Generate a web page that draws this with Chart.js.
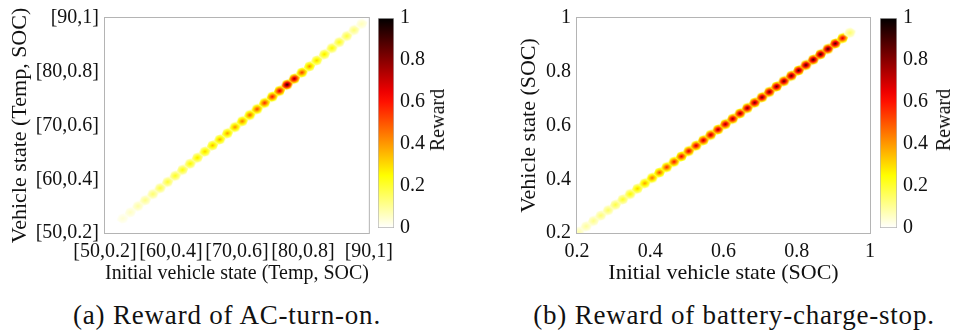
<!DOCTYPE html>
<html>
<head>
  <meta charset="utf-8">
  <title>Reward heatmaps</title>
  <script src="https://cdn.jsdelivr.net/npm/chart.js"></script>
  <style>
    body {
      margin: 0;
      width: 954px;
      height: 335px;
      position: relative;
      overflow: hidden;
      background: #fff;
      font-family: "Liberation Serif", serif;
      color: #111;
    }
    .box { position: absolute; }
    /* captions under each panel */
    .cap {
      position: absolute;
      top: 300px;
      line-height: 30px;
      font-size: 27px;
      letter-spacing: 0.8px;
      white-space: nowrap;
      transform: translateX(-50%);
    }
    /* colorbar label, reads bottom to top */
    .cbt {
      position: absolute;
      font-size: 20px;
      line-height: 20px;
      white-space: nowrap;
      transform: translate(-50%, -50%) rotate(-90deg);
    }
  </style>
</head>
<body>
  <div class="box" style="left:0;top:0;width:400px;height:290px"><canvas id="heatA"></canvas></div>
  <div class="box" style="left:370px;top:0;width:70px;height:250px"><canvas id="barA"></canvas></div>
  <div class="cbt" style="left:437px;top:120px">Reward</div>
  <div class="cap" style="left:227px">(a) Reward of AC-turn-on.</div>

  <div class="box" style="left:480px;top:0;width:420px;height:290px"><canvas id="heatB"></canvas></div>
  <div class="box" style="left:872px;top:0;width:70px;height:250px"><canvas id="barB"></canvas></div>
  <div class="cbt" style="left:943px;top:120px">Reward</div>
  <div class="cap" style="left:734px">(b) Reward of battery-charge-stop.</div>

  <script>
    // (a) state along the diagonal (SOC units of the axis) and peak reward
    const stateA = [0.254, 0.277, 0.300, 0.322, 0.345, 0.367, 0.390, 0.413, 0.435, 0.458,
                    0.480, 0.503, 0.526, 0.548, 0.571, 0.594, 0.616, 0.639, 0.661, 0.684,
                    0.707, 0.729, 0.752, 0.774, 0.797, 0.820, 0.842, 0.865, 0.888, 0.910,
                    0.933, 0.955, 0.978];
    const rewardA = [0.04, 0.06, 0.09, 0.12, 0.15, 0.19, 0.21, 0.23, 0.25, 0.27,
                     0.30, 0.33, 0.36, 0.38, 0.40, 0.43, 0.46, 0.50, 0.54, 0.58,
                     0.62, 0.70, 0.95, 0.80, 0.55, 0.42, 0.33, 0.30, 0.27, 0.24,
                     0.20, 0.14, 0.07];

    // (b) SOC along the diagonal and peak reward
    const stateB = [0.205, 0.225, 0.245, 0.265, 0.285, 0.305, 0.325, 0.345, 0.365, 0.385,
                    0.405, 0.425, 0.445, 0.465, 0.485, 0.505, 0.525, 0.545, 0.565, 0.585,
                    0.605, 0.625, 0.645, 0.665, 0.685, 0.705, 0.725, 0.745, 0.765, 0.785,
                    0.805, 0.825, 0.845, 0.865, 0.885, 0.905, 0.925, 0.945];
    const rewardB = [0.08, 0.10, 0.12, 0.14, 0.16, 0.19, 0.22, 0.27, 0.33, 0.40,
                     0.48, 0.52, 0.58, 0.62, 0.66, 0.70, 0.72, 0.74, 0.76, 0.78,
                     0.79, 0.80, 0.82, 0.83, 0.85, 0.86, 0.86, 0.87, 0.88, 0.89,
                     0.90, 0.91, 0.92, 0.93, 0.93, 0.90, 0.70, 0.15];

    const tickValues = [0.2, 0.4, 0.6, 0.8, 1];
    const tickLabelsA = ['[50,0.2]', '[60,0.4]', '[70,0.6]', '[80,0.8]', '[90,1]'];
    const tickLabelsB = ['0.2', '0.4', '0.6', '0.8', '1'];
    const colorbarTicks = [0, 0.2, 0.4, 0.6, 0.8, 1];
    const colorbarLabels = ['0', '0.2', '0.4', '0.6', '0.8', '1'];

    const FONT = '"Liberation Serif", serif';
    const TEXT = '#111';

    // flipped matlab "hot": 0 white -> yellow -> red -> 1 black
    function hotR(v) {
      const h = 1 - Math.min(1, Math.max(0, v));
      const r = Math.min(1, h / 0.375);
      const g = Math.min(1, Math.max(0, (h - 0.375) / 0.375));
      const b = Math.max(0, (h - 0.75) / 0.25);
      return [Math.round(r * 255), Math.round(g * 255), Math.round(b * 255)];
    }

    // one smeared cell of the heatmap: a hexagon, cut off while still yellow
    function makeBlob(v, len, wid, angle) {
      const size = Math.ceil(2 * len + 6);
      const c = document.createElement('canvas');
      c.width = c.height = size;
      const ctx = c.getContext('2d');
      ctx.translate(size / 2, size / 2);
      ctx.rotate(-angle);
      ctx.scale(1, wid / len);
      const g = ctx.createRadialGradient(0, 0, 0, 0, 0, len * 1.35);
      for (let i = 0; i <= 10; i++) {
        const t = i / 10;
        const rgb = hotR(v * (1 - t));
        g.addColorStop(t, 'rgb(' + rgb.join(',') + ')');
      }
      ctx.fillStyle = g;
      ctx.beginPath();
      ctx.moveTo(-len, 0);
      ctx.lineTo(-0.4 * len, -len);
      ctx.lineTo(0.4 * len, -len);
      ctx.lineTo(len, 0);
      ctx.lineTo(0.4 * len, len);
      ctx.lineTo(-0.4 * len, len);
      ctx.closePath();
      ctx.fill();
      return c;
    }

    // grey box round the plot area
    const framePlugin = {
      id: 'frame',
      afterDatasetsDraw(chart) {
        const { ctx, chartArea: a } = chart;
        ctx.save();
        ctx.strokeStyle = '#b4b4b4';
        ctx.lineWidth = 1;
        ctx.strokeRect(a.left - 0.5, a.top - 0.5, a.width + 1, a.height + 1);
        ctx.restore();
      }
    };

    function heatChart(id, states, rewards, labels, cfg) {
      const blobs = rewards.map(v => makeBlob(v, cfg.len, cfg.wid, cfg.angle));
      return new Chart(document.getElementById(id), {
        type: 'scatter',
        data: {
          datasets: [{
            data: states.map(s => ({ x: s, y: s })),
            pointStyle: blobs,
            pointRadius: 5
          }]
        },
        options: {
          responsive: true,
          maintainAspectRatio: false,
          animation: false,
          layout: { padding: { top: 12, right: 30, left: 0, bottom: 0 } },
          plugins: { legend: { display: false }, tooltip: { enabled: false } },
          scales: {
            x: {
              type: 'linear', min: 0.2, max: 1,
              afterBuildTicks: s => { s.ticks = tickValues.map(v => ({ value: v })); },
              afterFit: s => { s.height = 57; },
              grid: { display: false, drawTicks: false },
              border: { display: false },
              ticks: {
                callback: (v, i) => labels[i],
                autoSkip: false, maxRotation: 0, padding: 7,
                color: TEXT, font: { family: FONT, size: 20 }
              },
              title: {
                display: true, text: cfg.xTitle, color: TEXT,
                font: { family: FONT, size: 22 }, padding: { top: 0, bottom: 4 }
              }
            },
            y: {
              type: 'linear', min: 0.2, max: 1,
              afterBuildTicks: s => { s.ticks = tickValues.map(v => ({ value: v })); },
              afterFit: s => { s.width = cfg.yWidth; },
              grid: { display: false, drawTicks: false },
              border: { display: false },
              ticks: {
                callback: (v, i) => labels[i],
                autoSkip: false, padding: 6,
                color: TEXT, font: { family: FONT, size: 20 }
              },
              title: {
                display: true, text: cfg.yTitle, color: TEXT,
                font: { family: FONT, size: 22 }, padding: { top: cfg.yTitlePad, bottom: 0 }
              }
            }
          }
        },
        plugins: [framePlugin]
      });
    }

    function colorbar(id, top, barWidth) {
      return new Chart(document.getElementById(id), {
        type: 'bar',
        data: {
          labels: ['Reward'],
          datasets: [{
            data: [1],
            backgroundColor: (c) => {
              const a = c.chart.chartArea;
              if (!a) return '#fff';
              const g = c.chart.ctx.createLinearGradient(0, a.bottom, 0, a.top);
              for (let i = 0; i <= 20; i++) {
                g.addColorStop(i / 20, 'rgb(' + hotR(i / 20).join(',') + ')');
              }
              return g;
            },
            borderColor: '#b4b4b4',
            borderWidth: 1,
            borderSkipped: false,
            barPercentage: 1,
            categoryPercentage: 1
          }]
        },
        options: {
          responsive: true,
          maintainAspectRatio: false,
          animation: false,
          layout: { padding: { top: top, left: 8, right: 0, bottom: 22 } },
          plugins: { legend: { display: false }, tooltip: { enabled: false } },
          scales: {
            x: { display: false },
            y: {
              position: 'right', min: 0, max: 1,
              afterBuildTicks: s => { s.ticks = colorbarTicks.map(v => ({ value: v })); },
              afterFit: s => { s.width = 70 - 8 - barWidth; },
              grid: { display: false, drawTicks: false },
              border: { display: false },
              ticks: {
                callback: (v, i) => colorbarLabels[i],
                padding: 6, color: TEXT, font: { family: FONT, size: 20 }
              }
            }
          }
        }
      });
    }

    heatChart('heatA', stateA, rewardA, tickLabelsA, {
      len: 6.2, wid: 4.8, angle: 0.3, yWidth: 105, yTitlePad: 7,
      xTitle: 'Initial vehicle state (Temp, SOC)', yTitle: 'Vehicle state (Temp, SOC)'
    });
    heatChart('heatB', stateB, rewardB, tickLabelsB, {
      len: 6.2, wid: 4.8, angle: 0.3, yWidth: 97, yTitlePad: 36,
      xTitle: 'Initial vehicle state (SOC)', yTitle: 'Vehicle state (SOC)'
    });
    colorbar('barA', 13, 16);
    colorbar('barB', 12, 17);
  </script>
</body>
</html>
